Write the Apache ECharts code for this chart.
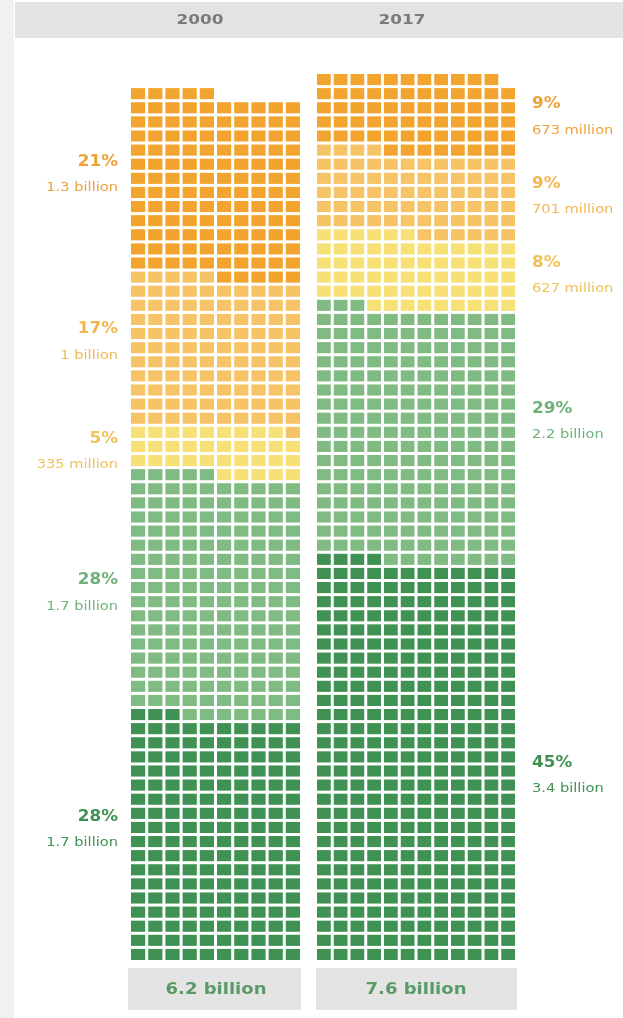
<!DOCTYPE html>
<html>
<head>
<meta charset="utf-8">
<script src="https://cdn.jsdelivr.net/npm/echarts@6/dist/echarts.min.js"></script>
<style>
  html, body { margin: 0; padding: 0; background: #ffffff; }
  #chart { width: 623px; height: 1018px; }
</style>
</head>
<body>
<div id="chart"></div>
<script>
// ---- data (segments listed bottom to top) ----
const years = ['2000', '2017'];
const totalLabels = ['6.2 billion', '7.6 billion'];
const cellsPerRow = [10, 12];
const millionsPerCell = 10;

// population of each band, in millions
const pop2000 = [1730, 1720, 335, 1060, 1300];
const pop2017 = [3400, 2150, 627, 701, 673];

const pct2000 = ['28%', '28%', '5%', '17%', '21%'];
const pct2017 = ['45%', '29%', '8%', '9%', '9%'];

const amount2000 = ['1.7 billion', '1.7 billion', '335 million', '1 billion', '1.3 billion'];
const amount2017 = ['3.4 billion', '2.2 billion', '627 million', '701 million', '673 million'];

// ---- styling ----
const cellColors = ['#3f9253', '#80bb84', '#f7e176', '#f6c466', '#f2a42e'];
const labelColors = ['#3f9253', '#6eb27a', '#efc35a', '#f1b752', '#eea23a'];
const GAP = 3;
const ROWS = 63;
const FONT = 'DejaVu Sans';
const WIDE = 1.2; // horizontal stretch applied to the text
// fine vertical placement of label pairs (px)
const labelNudge = [[-8, -1, 3, -8, -9], [16, -12, 6, 5, 6]];

const columns = [
  { pop: pop2000, pct: pct2000, amount: amount2000 },
  { pop: pop2017, pct: pct2017, amount: amount2017 }
];

function buildCells(pop, perRow) {
  const out = [];
  let idx = 0;
  pop.forEach((v, s) => {
    const n = Math.round(v / millionsPerCell);
    for (let k = 0; k < n; k++, idx++) {
      out.push([idx % perRow, Math.floor(idx / perRow), s]);
    }
  });
  return out;
}

function buildBands(pop, perRow) {
  const out = [];
  let start = 0;
  pop.forEach((v, s) => {
    const n = Math.round(v / millionsPerCell);
    const mid = (start / perRow + (start + n) / perRow) / 2;
    out.push([0, mid, s]);
    start += n;
  });
  return out;
}

const grids = [
  { left: 131, top: 71, width: 172, height: 889 },
  { left: 317, top: 71, width: 201, height: 889 }
];

const series = [];
columns.forEach((c, i) => {
  const perRow = cellsPerRow[i];
  series.push({
    type: 'custom',
    xAxisIndex: i, yAxisIndex: i,
    data: buildCells(c.pop, perRow),
    renderItem: function (params, api) {
      const col = api.value(0), row = api.value(1), s = api.value(2);
      const p = api.coord([col, row + 1]);
      const sz = api.size([1, 1]);
      return {
        type: 'rect',
        shape: { x: p[0], y: p[1] + GAP, width: sz[0] - GAP, height: sz[1] - GAP },
        style: { fill: cellColors[s] }
      };
    },
    silent: true
  });
  series.push({
    type: 'custom',
    xAxisIndex: i, yAxisIndex: i,
    clip: false,
    data: buildBands(c.pop, perRow),
    renderItem: function (params, api) {
      const s = api.value(2);
      const mid = api.coord([0, api.value(1)])[1] + labelNudge[i][s];
      const leftSide = i === 0;
      const x = leftSide ? api.coord([0, 0])[0] - 13 : api.coord([perRow, 0])[0] + 14;
      const align = leftSide ? 'right' : 'left';
      return {
        type: 'group',
        children: [
          {
            type: 'text', x: x, y: mid - 13, scaleX: 1.12,
            style: { text: c.pct[s], fill: labelColors[s], font: 'bold 15px ' + FONT, align: align, verticalAlign: 'middle' }
          },
          {
            type: 'text', x: x, y: mid + 13, scaleX: 1.22,
            style: { text: c.amount[s], fill: labelColors[s], font: '12px ' + FONT, align: align, verticalAlign: 'middle' }
          }
        ]
      };
    },
    silent: true
  });
});

const chart = echarts.init(document.getElementById('chart'), null, { renderer: 'canvas' });
chart.setOption({
  backgroundColor: '#ffffff',
  animation: false,
  graphic: [
    { type: 'rect', shape: { x: 0, y: 0, width: 14, height: 1018 }, style: { fill: '#f1f1f1' }, z: -10 },
    { type: 'rect', shape: { x: 15, y: 2, width: 608, height: 36 }, style: { fill: '#e3e3e5' }, z: -10 },
    { type: 'text', x: 200, y: 20, scaleX: WIDE, style: { text: years[0], font: 'bold 14px ' + FONT, fill: '#7a7a7a', align: 'center', verticalAlign: 'middle' } },
    { type: 'text', x: 402, y: 20, scaleX: WIDE, style: { text: years[1], font: 'bold 14px ' + FONT, fill: '#7a7a7a', align: 'center', verticalAlign: 'middle' } },
    { type: 'rect', shape: { x: 128, y: 968, width: 173, height: 42 }, style: { fill: '#e4e4e4' }, z: -10 },
    { type: 'rect', shape: { x: 316, y: 968, width: 201, height: 42 }, style: { fill: '#e4e4e4' }, z: -10 },
    { type: 'text', x: 216, y: 990, scaleX: WIDE, style: { text: totalLabels[0], font: 'bold 15px ' + FONT, fill: '#5a9a66', align: 'center', verticalAlign: 'middle' } },
    { type: 'text', x: 416, y: 990, scaleX: WIDE, style: { text: totalLabels[1], font: 'bold 15px ' + FONT, fill: '#5a9a66', align: 'center', verticalAlign: 'middle' } }
  ],
  grid: grids,
  xAxis: cellsPerRow.map((n, i) => ({ type: 'value', gridIndex: i, min: 0, max: n, show: false })),
  yAxis: cellsPerRow.map((n, i) => ({ type: 'value', gridIndex: i, min: 0, max: ROWS, show: false })),
  series: series
});
</script>
</body>
</html>
